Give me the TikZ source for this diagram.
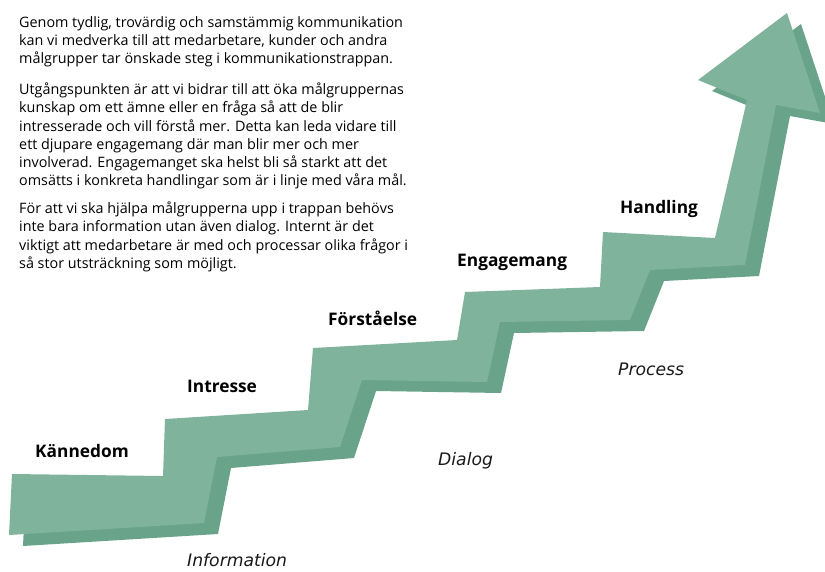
\documentclass[tikz,border=0pt]{standalone}
\usepackage{fontspec}
\setmainfont{Open Sans}
\newfontfamily\channelfont{DejaVu Sans}
\definecolor{stepfront}{HTML}{80B39C}
\definecolor{stepshadow}{HTML}{69A48A}
\begin{document}
\begin{tikzpicture}[x=1pt,y=-1pt,
  bodytext/.style={anchor=base west, inner sep=0pt, font=\fontsize{14.35}{17}\selectfont, text=black},
  steplabel/.style={anchor=base west, inner sep=0pt, font=\fontsize{17.3}{20}\selectfont\bfseries, text=black},
  channel/.style={anchor=base west, inner sep=0pt, font=\channelfont\fontsize{17.2}{20}\selectfont\itshape, text=black!90}]
\useasboundingbox (0,0) rectangle (825,571);
\clip (0,0) rectangle (825,571);
\def\stairpath{(9,535) -- (12,474) -- (163,476) -- (165,419) -- (308,410) -- (313,348) -- (457,340) -- (465,292) -- (600,287) -- (603,232) -- (715,238) -- (747,100) -- (698,80) -- (787,13) -- (820,113) -- (776,105) -- (745,265) -- (650,270) -- (630,320) -- (500,322) -- (487,382) -- (362,380) -- (340,447) -- (217,457) -- (204,523) -- cycle}
\fill[stepshadow, shift={(14,11)}] \stairpath;
\fill[stepfront] \stairpath;
% paragraph 1
\node[bodytext] (p1a) at (19,27) {Genom tydlig, trovärdig och samstämmig kommunikation};
\node[bodytext] (p1b) at (19,45.5) {kan vi medverka till att medarbetare, kunder och andra};
\node[bodytext] (p1c) at (19,63.5) {målgrupper tar önskade steg i kommunikationstrappan.};
% paragraph 2
\node[bodytext] (p2a) at (19,94) {Utgångspunkten är att vi bidrar till att öka målgruppernas};
\node[bodytext] (p2b) at (19,112.5) {kunskap om ett ämne eller en fråga så att de blir};
\node[bodytext] (p2c) at (19,131) {intresserade och vill förstå mer. Detta kan leda vidare till};
\node[bodytext] (p2d) at (19,149) {ett djupare engagemang där man blir mer och mer};
\node[bodytext] (p2e) at (19,167) {involverad. Engagemanget ska helst bli så starkt att det};
\node[bodytext] (p2f) at (19,185) {omsätts i konkreta handlingar som är i linje med våra mål.};
% paragraph 3
\node[bodytext] (p3a) at (19,213) {För att vi ska hjälpa målgrupperna upp i trappan behövs};
\node[bodytext] (p3b) at (19,231.5) {inte bara information utan även dialog. Internt är det};
\node[bodytext] (p3c) at (19,250) {viktigt att medarbetare är med och processar olika frågor i};
\node[bodytext] (p3d) at (19,268) {så stor utsträckning som möjligt.};
% step labels
\node[steplabel] (kan) at (35,457) {Kännedom};
\node[steplabel] (int) at (187,392) {Intresse};
\node[steplabel] (for) at (328,325.5) {Förståelse};
\node[steplabel] (eng) at (457,266) {Engagemang};
\node[steplabel] (han) at (620,213) {Handling};
% channel labels
\node[channel] (inf) at (187,566) {Information};
\node[channel] (dia) at (438,465) {Dialog};
\node[channel] (pro) at (618,375) {Process};
\end{tikzpicture}
\end{document}
